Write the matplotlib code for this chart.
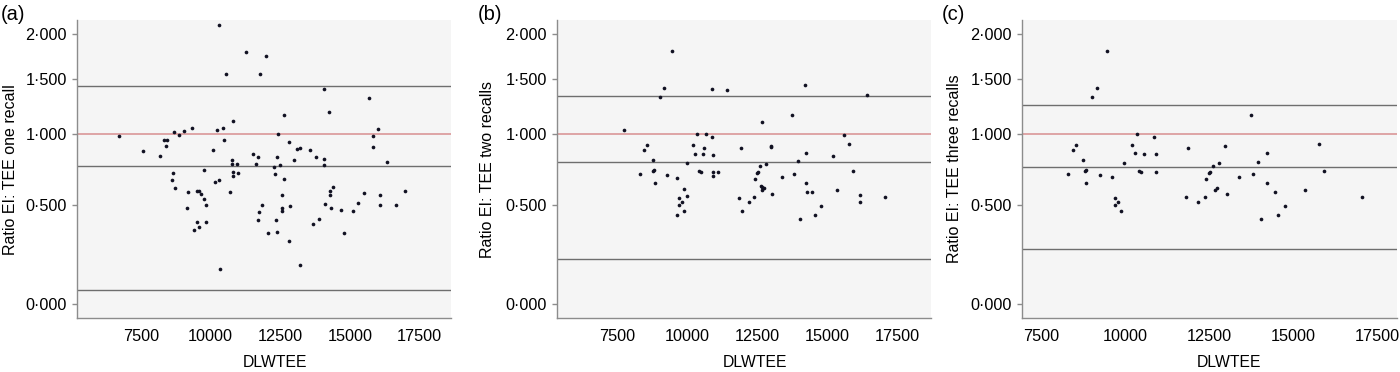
import numpy as np
import matplotlib
matplotlib.use('Agg')
import matplotlib.pyplot as plt
from matplotlib.ticker import FuncFormatter

plt.rcParams['font.family'] = ['Liberation Sans', 'DejaVu Sans']

# panel (a): one recall
a_x = [6710, 7570, 8170, 8320, 8420, 8400, 8690, 8870, 9040, 9320, 8650, 8620, 8710, 9200, 9130, 9490,
       9590, 9660, 9760, 9830, 9760, 9410, 9500, 9580, 9830, 10090, 10150, 10300, 10210, 10440, 10480,
       10300, 10540, 10330, 10680, 10810, 10760, 10760, 10810, 10810, 10940, 10970, 11280, 11510, 11630,
       11710, 11780, 11980, 11840, 11720, 11710, 12070, 12280, 12310, 12380, 12420, 12500, 12550, 12620,
       12560, 12560, 12340, 12380, 12640, 12830, 12860, 12820, 13010, 13120, 13220, 13220, 13580, 13660,
       13800, 13880, 14060, 14080, 14080, 14120, 14270, 14280, 14300, 14390, 14330, 14680, 14810, 15100,
       15280, 15520, 15680, 15840, 15850, 16030, 16070, 16070, 16340, 16670, 16990]
a_y = [0.985, 0.867, 0.825, 0.953, 0.951, 0.901, 1.012, 0.990, 1.023, 1.048, 0.705, 0.657, 0.602, 0.576,
       0.479, 0.585, 0.587, 0.565, 0.532, 0.497, 0.728, 0.350, 0.395, 0.370, 0.398, 0.870, 0.644, 0.659,
       1.029, 1.048, 0.948, 2.112, 1.555, 0.155, 0.580, 1.104, 0.800, 0.766, 0.714, 0.682, 0.768, 0.703,
       1.795, 0.840, 0.768, 0.817, 1.555, 1.742, 0.497, 0.455, 0.408, 0.334, 0.750, 0.696, 0.823, 0.996,
       0.762, 0.557, 0.666, 0.481, 0.463, 0.408, 0.339, 1.160, 0.935, 0.491, 0.294, 0.796, 0.883, 0.887,
       0.175, 0.870, 0.385, 0.820, 0.412, 1.397, 0.805, 0.762, 0.505, 1.186, 0.587, 0.559, 0.608, 0.479,
       0.467, 0.337, 0.463, 0.511, 0.574, 1.317, 0.985, 0.893, 1.037, 0.559, 0.499, 0.781, 0.500, 0.587]
a_lines = [1.430, 0.752, 0.060]

# panel (b): two recalls
b_x = [7740, 8330, 8470, 8560, 8770, 8780, 8800, 8870, 9020, 9190, 9280, 9470, 9640, 9650, 9720, 9720,
       9800, 9900, 9900, 9980, 9980, 10220, 10290, 10350, 10430, 10480, 10600, 10580, 10670, 10900, 10900,
       10930, 10930, 10930, 11100, 11410, 11840, 11910, 11970, 12190, 12390, 12420, 12500, 12540, 12610,
       12630, 12680, 12680, 12730, 12670, 12810, 13000, 13000, 13020, 13380, 13750, 13820, 13960, 14030,
       14210, 14230, 14220, 14280, 14460, 14540, 14770, 15180, 15350, 15600, 15770, 15920, 16150, 16150,
       16420, 17050]
b_y = [1.034, 0.698, 0.875, 0.908, 0.796, 0.721, 0.725, 0.639, 1.327, 1.414, 0.691, 1.799, 0.673, 0.435,
       0.540, 0.497, 0.513, 0.595, 0.459, 0.553, 0.774, 0.914, 0.845, 0.999, 0.721, 0.714, 0.885, 0.840,
       1.001, 0.972, 1.397, 0.837, 0.714, 0.687, 0.714, 1.388, 0.542, 0.891, 0.463, 0.513, 0.548, 0.664,
       0.703, 0.710, 0.755, 0.619, 0.608, 0.589, 0.604, 1.096, 0.771, 0.898, 0.906, 0.565, 0.675, 1.162,
       0.698, 0.788, 0.416, 1.437, 0.850, 0.639, 0.578, 0.578, 0.435, 0.489, 0.825, 0.591, 0.993, 0.919,
       0.717, 0.559, 0.513, 1.340, 0.548]
b_lines = [1.330, 0.781, 0.201]

# panel (c): three recalls
c_x = [8310, 8450, 8540, 8760, 8800, 8830, 8850, 9000, 9170, 9250, 9450, 9620, 9700, 9700, 9790, 9880,
       9960, 10210, 10290, 10340, 10420, 10470, 10560, 10870, 10930, 10930, 11820, 11880, 12180, 12390,
       12410, 12490, 12520, 12600, 12660, 12720, 12800, 12980, 13020, 13380, 13750, 13810, 13950, 14030,
       14230, 14220, 14460, 14540, 14770, 15350, 15760, 15910, 17050]
c_y = [0.698, 0.875, 0.908, 0.796, 0.721, 0.724, 0.639, 1.327, 1.414, 0.691, 1.799, 0.675, 0.540, 0.497,
       0.513, 0.461, 0.774, 0.914, 0.847, 0.999, 0.723, 0.714, 0.840, 0.972, 0.840, 0.714, 0.544, 0.891,
       0.513, 0.548, 0.664, 0.703, 0.710, 0.755, 0.589, 0.604, 0.774, 0.906, 0.565, 0.675, 1.162, 0.696,
       0.786, 0.416, 0.850, 0.639, 0.578, 0.435, 0.489, 0.591, 0.919, 0.717, 0.548]
c_lines = [1.252, 0.749, 0.253]

panel_tags = ['(a)', '(b)', '(c)']
y_titles = ['Ratio EI: TEE one recall', 'Ratio EI: TEE two recalls', 'Ratio EI: TEE three recalls']
x_title = 'DLWTEE'
x_ticks = [7500, 10000, 12500, 15000, 17500]
y_ticks = [0.0, 0.5, 1.0, 1.5, 2.0]


def fwd(v):
	return np.log(np.asarray(v) + 1.0)


def inv(v):
	return np.exp(np.asarray(v)) - 1.0


def dot_fmt(v, pos):
	return ('%.3f' % v).replace('.', '\u00b7')


def panel(fig, rect, xs, ys, lines, tag, ytitle, xlim, xlab_x, ylab_x, tag_x):
	ax = fig.add_axes(rect)
	ax.set_facecolor('#f5f5f5')
	ax.set_yscale('function', functions=(fwd, inv))
	ax.set_ylim(-0.056, 2.18)
	ax.set_xlim(*xlim)
	for v in lines:
		ax.axhline(v, color='#6e6e6e', lw=1.0, zorder=1)
	ax.axhline(1.0, color='#d88e90', lw=1.1, zorder=1)
	ax.scatter(xs, ys, s=7, color='#111122', linewidths=0, zorder=3)
	ax.set_yticks(y_ticks)
	ax.yaxis.set_major_formatter(FuncFormatter(dot_fmt))
	ax.yaxis.set_minor_locator(plt.NullLocator())
	ax.set_xticks(x_ticks)
	for s in ['top', 'right']:
		ax.spines[s].set_visible(False)
	for s in ['left', 'bottom']:
		ax.spines[s].set_color('#8c8c8c')
		ax.spines[s].set_linewidth(1.0)
	ax.tick_params(axis='both', colors='#8c8c8c', labelcolor='black', labelsize=11.7, width=1.0)
	ax.tick_params(axis='y', length=3.8, pad=3.6)
	ax.tick_params(axis='x', length=0, pad=7.5)
	ax.set_ylabel(ytitle, fontsize=11.5)
	ax.yaxis.label.set_va('center')
	ax.yaxis.set_label_coords(ylab_x, 0.5)
	ax.set_xlabel(x_title, fontsize=11.3)
	ax.xaxis.label.set_va('center')
	ax.xaxis.set_label_coords(xlab_x, -0.1465)
	fig.text(tag_x, 1 - 14 / 372, tag, fontsize=14.5, va='center', ha='left')
	return ax


def main():
	fig = plt.figure(figsize=(14, 3.72), dpi=100)
	b = 1 - 318.3 / 372
	h = 298.3 / 372
	panel(fig, [77 / 1400, b, 373.7 / 1400, h], a_x, a_y, a_lines, panel_tags[0], y_titles[0],
		(5190, 18630), 0.529, -0.179, 1 / 1400)
	panel(fig, [557.3 / 1400, b, 373.4 / 1400, h], b_x, b_y, b_lines, panel_tags[1], y_titles[1],
		(5370, 18680), 0.529, -0.186, 478 / 1400)
	panel(fig, [1022.3 / 1400, b, 374.4 / 1400, h], c_x, c_y, c_lines, panel_tags[2], y_titles[2],
		(6940, 18080), 0.553, -0.182, 942 / 1400)
	fig.savefig('out.png', dpi=100)


if __name__ == '__main__':
	main()
